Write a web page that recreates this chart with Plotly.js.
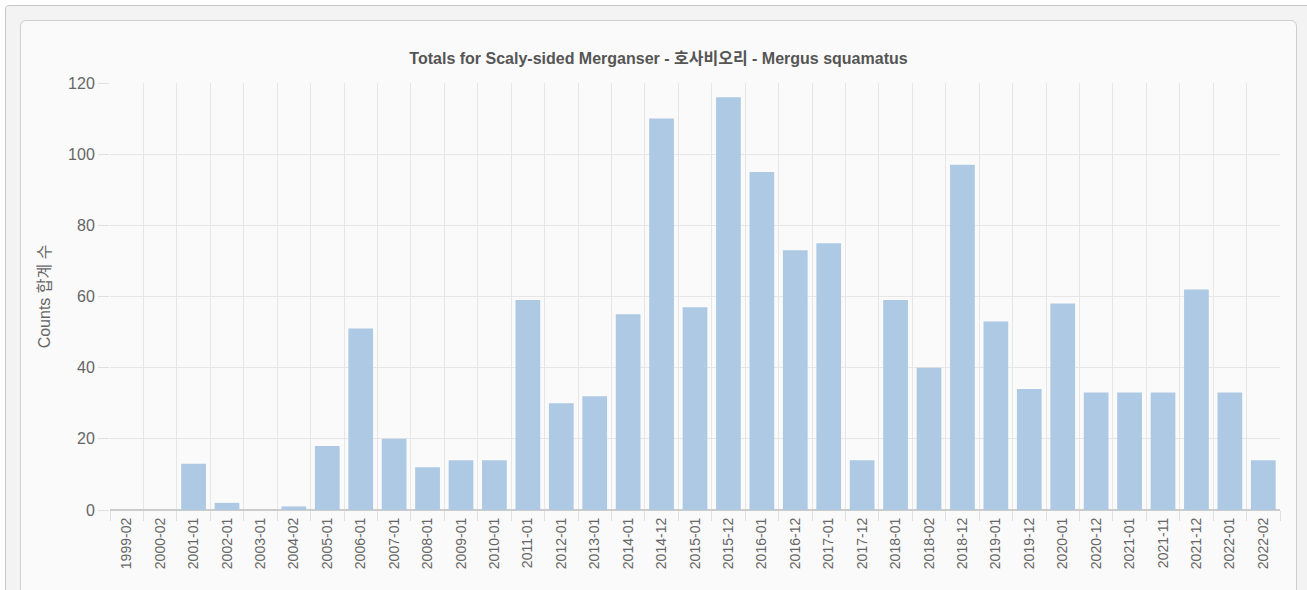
<!DOCTYPE html>
<html>
<head>
<meta charset="utf-8">
<script src="https://cdn.plot.ly/plotly-3.0.1.min.js"></script>
<style>
  html, body { margin: 0; padding: 0; background: #ffffff; width: 1307px; height: 590px; overflow: hidden; }
  #outer { position: absolute; left: 5px; top: 5px; width: 1320px; height: 620px; border: 1px solid #c8c8c8; background: #f3f3f3; border-radius: 4px; }
  #card { position: absolute; left: 20px; top: 20px; width: 1275px; height: 600px; border: 1px solid #cfcfcf; background: #fafafa; border-radius: 6px; }
  #chart { position: absolute; left: 0; top: 0; width: 1275px; height: 570px; }
</style>
</head>
<body>
<div id="outer"></div>
<div id="card"><div id="chart"></div></div>
<script>
const categories = ["1999-02","2000-02","2001-01","2002-01","2003-01","2004-02","2005-01","2006-01","2007-01","2008-01","2009-01","2010-01","2011-01","2012-01","2013-01","2014-01","2014-12","2015-01","2015-12","2016-01","2016-12","2017-01","2017-12","2018-01","2018-02","2018-12","2019-01","2019-12","2020-01","2020-12","2021-01","2021-11","2021-12","2022-01","2022-02"];
const counts = [0,0,13,2,0,1,18,51,20,12,14,14,59,30,32,55,110,57,116,95,73,75,14,59,40,97,53,34,58,33,33,33,62,33,14];
const titleText = "Totals for Scaly-sided Merganser - 호사비오리 - Mergus squamatus";
const yTitle = "Counts 합계 수";
const yTicks = [0,20,40,60,80,100,120];

const font = '"Liberation Sans", Arial, "Noto Sans CJK KR", sans-serif';

Plotly.newPlot('chart', [{
  type: 'bar',
  x: categories,
  y: counts,
  marker: { color: '#aec9e4', line: { width: 0 } },
  hoverinfo: 'x+y'
}], {
  width: 1275, height: 570,
  margin: { l: 89, r: 16, t: 62, b: 81 },
  paper_bgcolor: 'rgba(0,0,0,0)',
  plot_bgcolor: 'rgba(0,0,0,0)',
  bargap: 0.26,
  showlegend: false,
  font: { family: font, color: '#666666' },
  title: {
    text: '<b>' + titleText + '</b>',
    font: { family: font, size: 16, color: '#555555' },
    x: 0.5, xref: 'container', xanchor: 'center',
    y: 1 - 37/570, yref: 'container', yanchor: 'middle'
  },
  xaxis: {
    type: 'category',
    tickson: 'boundaries',
    ticks: 'outside', ticklen: 10, tickcolor: '#e0e0e0',
    ticklabelstandoff: 4,
    showgrid: true, gridcolor: '#e6e6e6', gridwidth: 1,
    tickangle: -90,
    tickfont: { family: font, size: 14, color: '#666666' },
    showline: false, zeroline: false,
    range: [-0.5, categories.length - 0.5],
    fixedrange: true
  },
  yaxis: {
    range: [0, 120],
    tickvals: yTicks,
    ticktext: yTicks.map(String),
    ticks: 'outside', ticklen: 11, tickcolor: '#e0e0e0',
    showgrid: true, gridcolor: '#e6e6e6', gridwidth: 1,
    zeroline: true, zerolinecolor: '#cccccc', zerolinewidth: 1.5,
    showline: false,
    tickfont: { family: font, size: 16, color: '#666666' },
    title: { text: yTitle, font: { family: font, size: 16, color: '#666666' }, standoff: 13 },
    fixedrange: true
  }
}, { displayModeBar: false, staticPlot: true });
</script>
</body>
</html>
